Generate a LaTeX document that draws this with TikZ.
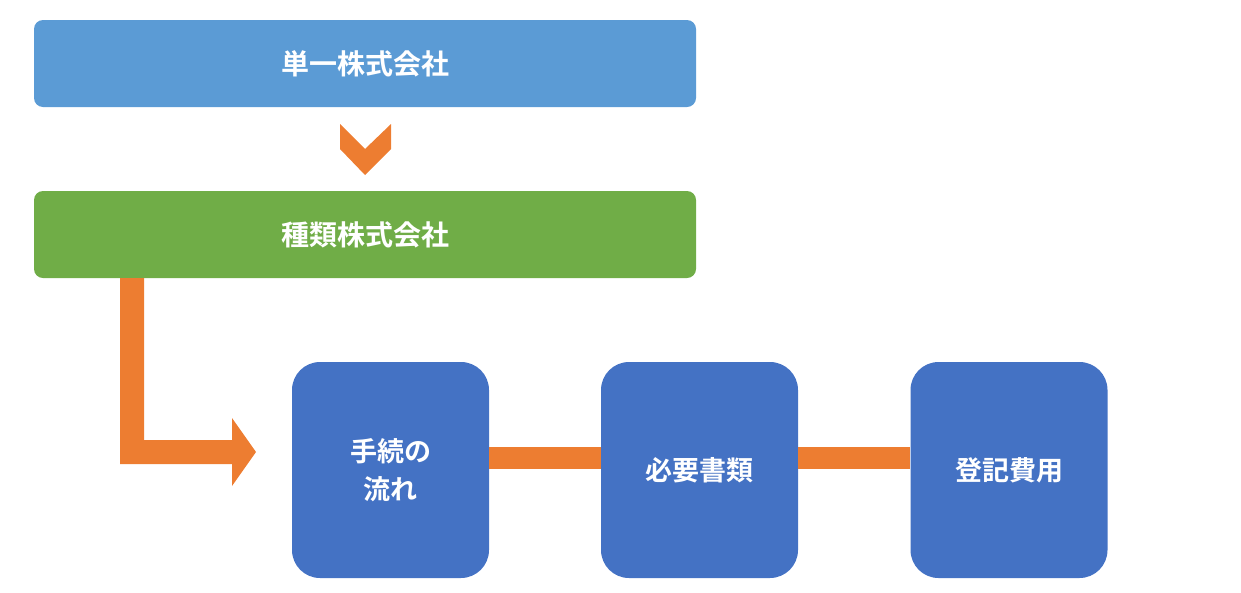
\documentclass[tikz,border=0pt]{standalone}
\usepackage{fontspec}
\setmainfont{Noto Sans CJK JP}[BoldFont={Noto Sans CJK JP Bold}]
\definecolor{topblue}{HTML}{5B9BD5}
\definecolor{grn}{HTML}{70AD47}
\definecolor{blu}{HTML}{4472C4}
\definecolor{org}{HTML}{ED7D31}
\begin{document}
\begin{tikzpicture}[x=1pt,y=-1pt,
  wide/.style={rounded corners=9pt,minimum width=662pt,minimum height=87pt,inner sep=0,text=white,font=\bfseries\fontsize{28pt}{32pt}\selectfont},
  stepbox/.style={fill=blu,rounded corners=28pt,minimum width=197pt,minimum height=216pt,inner sep=0,text=white,align=center,font=\bfseries\fontsize{27pt}{38pt}\selectfont},
  bar/.style={draw=org,line width=22pt}]
\useasboundingbox (0,0) rectangle (1241,592);
\node[wide,fill=topblue] (a) at (365,63.5) {単一株式会社};
\node[wide,fill=grn] (b) at (365,234.5) {種類株式会社};
\fill[org] (340,124) -- (365,149) -- (391,124) -- (391,149) -- (365,175) -- (340,149) -- cycle;
\node[stepbox] (c1) at (390.5,470) {手続の\\流れ};
\node[stepbox] (c2) at (699.5,470) {必要書類};
\node[stepbox] (c3) at (1009,470) {登記費用};
\fill[org] (120,278) -- (144,278) -- (144,440) -- (232,440) -- (232,418) -- (256,452) -- (232,486) -- (232,464) -- (120,464) -- cycle;
\draw[bar] (c1.east |- 0,458) -- (c2.west |- 0,458);
\draw[bar] (c2.east |- 0,458) -- (c3.west |- 0,458);
\end{tikzpicture}
\end{document}
